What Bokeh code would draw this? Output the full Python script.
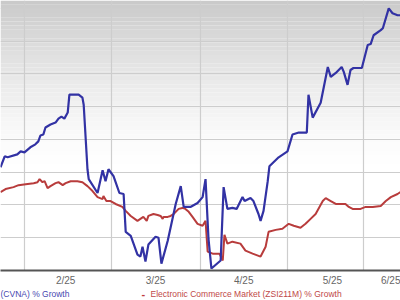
from bokeh.plotting import figure
from bokeh.models import FixedTicker, Range1d
from bokeh.layouts import column
from bokeh.core.properties import value
from bokeh.embed import file_html
from bokeh.resources import INLINE

# ---- data (x = trading-session index, y = % growth) ----
cvna_x = [0.0, 1.0, 1.7, 4.0, 4.8, 5.7, 7.1, 8.3, 9.0, 9.5, 10.2, 10.7, 11.9, 13.1, 13.8, 14.5, 15.2, 16.0, 16.4, 17.4,
          18.6, 19.5, 19.8, 20.7, 21.0, 23.1, 24.3, 25.0, 25.7, 26.9, 28.3, 29.3, 29.8, 31.0, 32.6, 33.3, 33.8, 34.5,
          35.2, 36.9, 37.6, 38.3, 39.8, 41.7, 42.9, 43.6, 45.2, 46.9, 48.1, 48.8, 49.5, 50.2, 52.4, 53.1, 54.0, 55.2,
          56.2, 57.6, 58.1, 59.5, 60.2, 61.4, 61.9, 62.6, 63.6, 64.0, 66.2, 68.3, 69.5, 71.0, 72.9, 73.3, 74.3, 76.2,
          77.9, 78.6, 79.8, 81.2, 81.7, 82.6, 83.3, 84.0, 86.0, 87.4, 88.1, 88.8, 90.5, 91.0, 92.4, 93.3, 94.5, 95.2]
cvna_y = [23.0, 29.7, 29.1, 30.9, 32.7, 32.1, 35.2, 37.0, 38.8, 42.4, 43.0, 47.3, 49.1, 50.3, 52.7, 53.9, 52.7, 56.4,
          67.3, 67.3, 67.3, 65.5, 61.2, 21.8, 15.8, 7.3, 21.2, 14.5, 21.8, 17.6, 7.3, 6.7, -16.4, -18.8, -30.3, -31.5,
          -25.5, -34.5, -24.2, -19.4, -20.0, -35.8, -21.8, 0.6, 11.5, -1.2, -1.2, 1.2, 4.8, 15.8, -20.6, -38.8, -33.9,
          10.9, -2.4, -1.8, -2.4, 4.8, 2.4, 4.2, 2.4, -5.5, -9.7, -3.6, 14.5, 23.6, 29.1, 32.7, 43.0, 44.2, 44.2, 67.3,
          53.3, 62.4, 84.2, 78.2, 80.6, 84.2, 81.2, 73.3, 82.4, 83.6, 83.6, 97.6, 98.2, 103.6, 106.7, 107.9, 120.0,
          117.0, 115.8, 115.8]

ecm_x = [0.0, 1.2, 3.1, 4.3, 6.0, 7.9, 8.8, 9.3, 10.0, 10.5, 11.2, 11.9, 13.1, 13.8, 14.8, 15.5, 16.7, 18.3, 19.5,
         20.7, 21.9, 23.1, 24.3, 24.5, 25.2, 26.2, 27.4, 29.0, 29.8, 31.0, 32.6, 33.3, 34.0, 34.8, 35.2, 36.4, 37.4,
         38.1, 38.6, 38.8, 39.8, 40.5, 41.2, 42.4, 43.3, 44.0, 44.8, 45.7, 46.9, 48.1, 48.8, 49.3, 50.5, 52.1, 52.9,
         53.3, 54.0, 55.2, 57.1, 58.3, 60.0, 61.9, 63.1, 63.8, 65.5, 67.1, 68.6, 69.8, 71.4, 72.6, 73.8, 75.0, 76.7,
         77.4, 78.6, 79.8, 82.1, 82.9, 83.8, 85.7, 86.9, 88.6, 90.5, 91.7, 92.9, 94.5, 95.2]
ecm_y = [7.9, 9.7, 10.9, 12.1, 12.7, 13.3, 13.9, 15.8, 13.9, 14.5, 10.3, 11.5, 13.3, 13.9, 12.1, 13.3, 14.5, 14.5,
         13.9, 11.5, 8.5, 4.8, 3.6, 5.5, 2.4, 2.4, 0.6, -1.2, -3.6, -6.7, -9.7, -8.5, -7.3, -9.7, -6.7, -5.5, -6.1,
         -6.7, -8.5, -7.3, -7.3, -6.7, -5.5, -2.4, -1.8, -2.4, -4.2, -7.3, -11.5, -12.7, -9.7, -28.5, -29.7, -29.7,
         -33.9, -18.2, -23.6, -22.4, -23.6, -27.9, -29.7, -31.5, -25.5, -16.4, -15.2, -14.5, -11.5, -12.7, -13.9,
         -11.5, -8.5, -5.5, 2.4, 4.2, 2.4, 0.6, 0.6, -1.2, -2.4, -2.4, -1.2, -1.2, -0.6, 2.4, 4.8, 6.7, 7.9]

month_edges = [5.7, 26.4, 47.6, 68.3, 86.4]
month_label_pos = [15.5, 36.9, 57.9, 79.0, 95.0]
month_labels = ["2/25", "3/25", "4/25", "5/25", "6/25"]
y_grid = [-20, 0, 20, 40, 60, 80, 100, 120]

cvna_name = "(CVNA) % Growth"
ecm_name = "Electronic Commerce Market (ZSI211M) % Growth"

X0, X1 = 0.0, 95.2
Y0, Y1 = -40.0, 124.8

FONT = "Liberation Sans"

p = figure(width=400, height=288, output_backend="svg", toolbar_location=None,
           x_range=Range1d(X0, X1), y_range=Range1d(Y0, Y1),
           min_border_left=0, min_border_right=0, min_border_top=0, min_border_bottom=16)
p.outline_line_color = None
p.background_fill_color = "white"
p.border_fill_color = "white"

# vertical grey-to-white gradient in the top part of the frame
n = 40
fade_h = (Y1 - Y0) * 0.62
for i in range(n):
    top = Y1 - fade_h * i / n
    bot = Y1 - fade_h * (i + 1) / n
    f = (1 - (i + 0.5) / n) ** 1.4
    g = int(round(255 - 54 * f))
    p.quad(left=X0, right=X1, top=top, bottom=bot, fill_color=(g, g, g), line_color=None, level="image")

# grids
p.xgrid.ticker = FixedTicker(ticks=month_edges)
p.ygrid.ticker = FixedTicker(ticks=y_grid)
for gr in (p.xgrid, p.ygrid):
    gr.grid_line_color = "#cdcdcd"
    gr.grid_line_width = 1.2

# axes
p.yaxis.visible = False
ax = p.xaxis[0]
ax.ticker = FixedTicker(ticks=month_label_pos)
ax.major_label_overrides = {pos: lab for pos, lab in zip(month_label_pos, month_labels)}
ax.axis_line_color = "#555555"
ax.axis_line_width = 2
ax.major_tick_line_color = None
ax.minor_tick_line_color = None
ax.major_tick_out = 0
ax.major_tick_in = 0
ax.major_label_standoff = 4
ax.major_label_text_font = FONT
ax.major_label_text_font_size = "10px"
ax.major_label_text_color = "#666666"

# lines
p.line(ecm_x, ecm_y, line_color="#b83c3c", line_width=2)
p.line(cvna_x, cvna_y, line_color="#3232a4", line_width=2.2)

# legend row as a strip below the chart
lg = figure(width=400, height=12, output_backend="svg", toolbar_location=None,
            x_range=Range1d(0, 400), y_range=Range1d(0, 12),
            min_border_left=0, min_border_right=0, min_border_top=0, min_border_bottom=0)
lg.axis.visible = False
lg.grid.visible = False
lg.outline_line_color = None
lg.background_fill_color = "white"
lg.border_fill_color = "white"
legend_names = [cvna_name, ecm_name]
legend_colors = ["#4848b0", "#c04848"]
legend_x = [0, 150]
lg.text(x=legend_x, y=[7, 7], text=legend_names, text_color=legend_colors, text_font=value(FONT),
        text_font_size="8.5px", text_baseline="middle", text_align="left")
lg.text(x=[141], y=[7], text=["-"], text_color="#c03c3c", text_font=value(FONT), text_font_size="11px",
        text_font_style="bold", text_baseline="middle", text_align="left")

layout = column(p, lg, spacing=0)
open("out.html", "w").write(file_html(layout, INLINE))
